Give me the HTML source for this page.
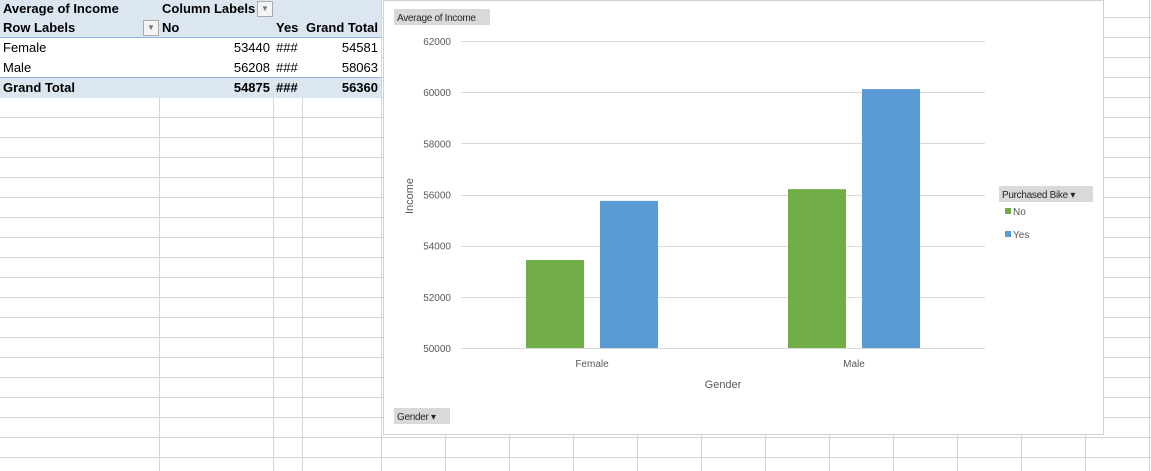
<!DOCTYPE html>
<html><head><meta charset="utf-8"><style>
body{margin:0;width:1151px;height:471px;overflow:hidden;background:#fff;font-family:"Liberation Sans",sans-serif;position:relative}
.abs{position:absolute}
.t{position:absolute;font-size:13px;color:#000;line-height:18px;white-space:nowrap}
.b{font-weight:bold}
.r{text-align:right}
</style></head><body>
<svg class="abs" style="left:0;top:0" width="1151" height="471" id="grid"></svg>
<div class="abs" style="left:0;top:37px;width:381px;height:40px;background:#fff"></div>
<div class="abs" style="left:0;top:0;width:381px;height:37px;background:#dce6f1;border-bottom:1px solid #95b3d7"></div>
<div class="abs" style="left:0;top:77px;width:381px;height:20px;background:#dce6f1;border-top:1px solid #95b3d7"></div>
<div class="t b" style="left:3px;top:0">Average of Income</div>
<div class="t b" style="left:162px;top:0">Column Labels</div>
<div class="abs" style="left:257px;top:1px;width:14px;height:14px;border:1px solid #aaa;background:#f4f4f4;font-size:8px;color:#777;text-align:center;line-height:14px">▼</div>
<div class="t b" style="left:3px;top:19px">Row Labels</div>
<div class="abs" style="left:143px;top:20px;width:14px;height:14px;border:1px solid #aaa;background:#f4f4f4;font-size:8px;color:#777;text-align:center;line-height:14px">▼</div>
<div class="t b" style="left:162px;top:19px">No</div>
<div class="t b" style="left:276px;top:19px">Yes</div>
<div class="t b r" style="left:300px;top:19px;width:78px">Grand Total</div>
<div class="t" style="left:3px;top:39px">Female</div>
<div class="t r" style="left:160px;top:39px;width:110px">53440</div>
<div class="t" style="left:276px;top:39px">###</div>
<div class="t r" style="left:300px;top:39px;width:78px">54581</div>
<div class="t" style="left:3px;top:59px">Male</div>
<div class="t r" style="left:160px;top:59px;width:110px">56208</div>
<div class="t" style="left:276px;top:59px">###</div>
<div class="t r" style="left:300px;top:59px;width:78px">58063</div>
<div class="t b" style="left:3px;top:79px">Grand Total</div>
<div class="t b r" style="left:160px;top:79px;width:110px">54875</div>
<div class="t b" style="left:276px;top:79px">###</div>
<div class="t b r" style="left:300px;top:79px;width:78px">56360</div>

<svg class="abs" style="left:383px;top:0" width="721" height="435" id="chart"></svg>
<script>
var categories=["Female","Male"];
var seriesNames=["No","Yes"];
var noValues=[53440,56208];
var yesValues=[55750,60120];
var yTicks=[50000,52000,54000,56000,58000,60000,62000];
var NS="http://www.w3.org/2000/svg";
function mk(p,tag,a){var e=document.createElementNS(NS,tag);for(var k in a)e.setAttribute(k,a[k]);p.appendChild(e);return e;}
var g=document.getElementById('grid');
for(var y=17;y<471;y+=20){var l=mk(g,'line',{x1:0,x2:1151,y1:y+.5,y2:y+.5,stroke:'#d4d4d4'});

}
[159,273,302,381,445,509,573,637,701,765,829,893,957,1021,1085,1149].forEach(function(x){var l=mk(g,'line',{x1:x+.5,x2:x+.5,y1:0,y2:471,stroke:'#d4d4d4'});

});
var c=document.getElementById('chart');
mk(c,'rect',{x:0.5,y:0.5,width:720,height:434,fill:'#fff',stroke:'#d0d0d0'});
var X0=78,X1=602,Ymin=50000,Ymax=62000,PT=41,PB=348;
function ys(v){return PB-(v-Ymin)/(Ymax-Ymin)*(PB-PT);}
function cx(i){return X0+(i+0.5)*(X1-X0)/categories.length;}
var f='font-family:"Liberation Sans",sans-serif;';
yTicks.forEach(function(v){
 var l=mk(c,'line',{x1:X0,x2:X1,y1:Math.round(ys(v))+.5,y2:Math.round(ys(v))+.5,stroke:'#d9d9d9'});
 
 
 var t=mk(c,'text',{x:68,y:ys(v)+4,'text-anchor':'end',style:f+'font-size:10px;fill:#595959'});t.textContent=v;
 
 
});
var bw=58,gap=16;
categories.forEach(function(cat,i){
 var m=cx(i);
 var r1=mk(c,'rect',{x:m-gap/2-bw,y:ys(noValues[i]),width:bw,height:PB-ys(noValues[i]),fill:'#70ad47'});
 
 
 var r2=mk(c,'rect',{x:m+gap/2,y:ys(yesValues[i]),width:bw,height:PB-ys(yesValues[i]),fill:'#5b9bd5'});
 
 
 var t=mk(c,'text',{x:m,y:367,'text-anchor':'middle',style:f+'font-size:10px;fill:#595959'});t.textContent=cat;
 
 
});
var t=mk(c,'text',{x:340,y:388,'text-anchor':'middle',style:f+'font-size:11px;fill:#595959'});t.textContent='Gender';


t=mk(c,'text',{x:0,y:0,'text-anchor':'middle',transform:'translate(30,196) rotate(-90)',style:f+'font-size:11px;fill:#595959'});t.textContent='Income';


function btn(x,y,w,label,name,arrow){
 var r=mk(c,'rect',{x:x,y:y,width:w,height:16,fill:'#d9d9d9'});
 
 
 var tt=mk(c,'text',{x:x+3,y:y+12,style:f+'font-size:10px;fill:#262626;letter-spacing:-0.3px'});tt.textContent=label+(arrow?'  ▾':'');
 
 
}
btn(11,9,96,'Average of Income','value-field-button',false);
btn(11,408,56,'Gender','gender-field-button',true);
btn(616,186,94,'Purchased Bike','legend-field-button',true);
[['No','#70ad47',214],['Yes','#5b9bd5',237]].forEach(function(e,i){
 var r=mk(c,'rect',{x:622,y:e[2]-6,width:6,height:6,fill:e[1]});
 
 
 var tt=mk(c,'text',{x:630,y:e[2]+1,style:f+'font-size:10px;fill:#595959'});tt.textContent=e[0];
 
 
});
</script>
</body></html>
